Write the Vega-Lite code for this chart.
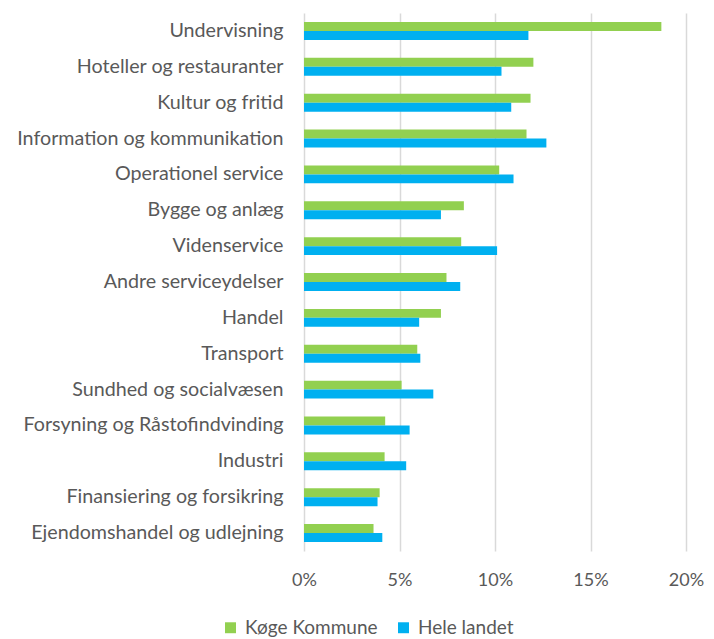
{
  "$schema": "https://vega.github.io/schema/vega-lite/v6.json",
  "width": 382,
  "height": 538,
  "autosize": {"type": "none"},
  "padding": {"left": 304, "top": 13, "right": 28, "bottom": 88},
  "background": "white",
  "config": {
    "font": "Lato",
    "view": {"stroke": null},
    "axis": {"labelColor": "#595959", "labelFont": "Lato", "labelFontSize": 18, "labelLimit": 400}
  },
  "data": {
    "values": [
      {"kategori": "Undervisning", "serie": "Køge Kommune", "andel": 18.71},
      {"kategori": "Undervisning", "serie": "Hele landet", "andel": 11.75},
      {"kategori": "Hoteller og restauranter", "serie": "Køge Kommune", "andel": 12.01},
      {"kategori": "Hoteller og restauranter", "serie": "Hele landet", "andel": 10.34},
      {"kategori": "Kultur og fritid", "serie": "Køge Kommune", "andel": 11.86},
      {"kategori": "Kultur og fritid", "serie": "Hele landet", "andel": 10.85},
      {"kategori": "Information og kommunikation", "serie": "Køge Kommune", "andel": 11.65},
      {"kategori": "Information og kommunikation", "serie": "Hele landet", "andel": 12.69},
      {"kategori": "Operationel service", "serie": "Køge Kommune", "andel": 10.22},
      {"kategori": "Operationel service", "serie": "Hele landet", "andel": 10.97},
      {"kategori": "Bygge og anlæg", "serie": "Køge Kommune", "andel": 8.37},
      {"kategori": "Bygge og anlæg", "serie": "Hele landet", "andel": 7.17},
      {"kategori": "Videnservice", "serie": "Køge Kommune", "andel": 8.23},
      {"kategori": "Videnservice", "serie": "Hele landet", "andel": 10.11},
      {"kategori": "Andre serviceydelser", "serie": "Køge Kommune", "andel": 7.46},
      {"kategori": "Andre serviceydelser", "serie": "Hele landet", "andel": 8.18},
      {"kategori": "Handel", "serie": "Køge Kommune", "andel": 7.17},
      {"kategori": "Handel", "serie": "Hele landet", "andel": 6.03},
      {"kategori": "Transport", "serie": "Køge Kommune", "andel": 5.93},
      {"kategori": "Transport", "serie": "Hele landet", "andel": 6.09},
      {"kategori": "Sundhed og socialvæsen", "serie": "Køge Kommune", "andel": 5.11},
      {"kategori": "Sundhed og socialvæsen", "serie": "Hele landet", "andel": 6.77},
      {"kategori": "Forsyning og Råstofindvinding", "serie": "Køge Kommune", "andel": 4.25},
      {"kategori": "Forsyning og Råstofindvinding", "serie": "Hele landet", "andel": 5.53},
      {"kategori": "Industri", "serie": "Køge Kommune", "andel": 4.22},
      {"kategori": "Industri", "serie": "Hele landet", "andel": 5.35},
      {"kategori": "Finansiering og forsikring", "serie": "Køge Kommune", "andel": 3.96},
      {"kategori": "Finansiering og forsikring", "serie": "Hele landet", "andel": 3.85},
      {"kategori": "Ejendomshandel og udlejning", "serie": "Køge Kommune", "andel": 3.64},
      {"kategori": "Ejendomshandel og udlejning", "serie": "Hele landet", "andel": 4.10}
    ]
  },
  "mark": {"type": "bar"},
  "encoding": {
    "y": {
      "field": "kategori",
      "type": "nominal",
      "sort": ["Undervisning", "Hoteller og restauranter", "Kultur og fritid", "Information og kommunikation", "Operationel service", "Bygge og anlæg", "Videnservice", "Andre serviceydelser", "Handel", "Transport", "Sundhed og socialvæsen", "Forsyning og Råstofindvinding", "Industri", "Finansiering og forsikring", "Ejendomshandel og udlejning"],
      "scale": {"paddingInner": 0.5, "paddingOuter": 0.25},
      "axis": {"title": null, "ticks": false, "domain": false, "labelPadding": 21, "labelFontSize": 19.7, "grid": false}
    },
    "yOffset": {
      "field": "serie",
      "type": "nominal",
      "sort": ["Køge Kommune", "Hele landet"],
      "scale": {"paddingInner": 0, "paddingOuter": 0}
    },
    "x": {
      "field": "andel",
      "type": "quantitative",
      "scale": {"domain": [0, 20]},
      "axis": {"title": null, "values": [0, 5, 10, 15, 20], "labelExpr": "datum.value + '%'", "labelFlush": false, "ticks": false, "domain": false, "grid": true, "gridColor": "#d9d9d9", "gridWidth": 1.5, "labelPadding": 20}
    },
    "color": {
      "field": "serie",
      "type": "nominal",
      "sort": ["Køge Kommune", "Hele landet"],
      "scale": {"domain": ["Køge Kommune", "Hele landet"], "range": ["#92D050", "#00B0F0"]},
      "legend": {
        "title": null,
        "orient": "none",
        "legendX": -83,
        "legendY": 605,
        "direction": "horizontal",
        "symbolType": "square",
        "symbolSize": 120,
        "symbolStrokeWidth": 0,
        "labelFontSize": 19,
        "labelColor": "#595959",
        "labelFont": "Lato",
        "labelOffset": 5,
        "columnPadding": 16,
        "symbolOffset": 0
      }
    }
  }
}
